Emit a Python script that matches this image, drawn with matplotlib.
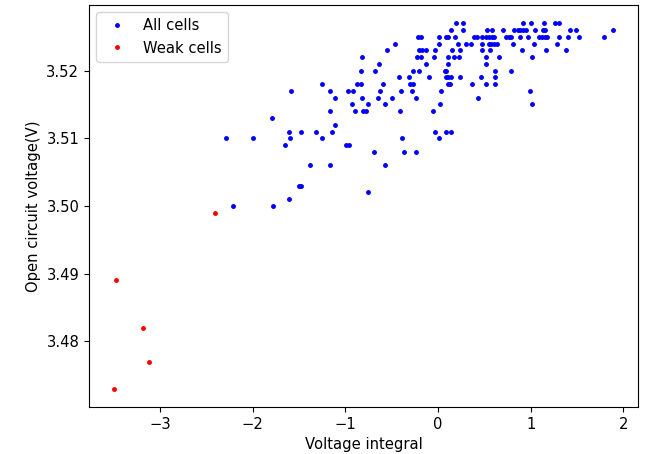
import matplotlib
matplotlib.use("Agg")
import matplotlib.pyplot as plt

plt.rcParams['font.size'] = 10.6

# All cells: voltage integral (x) and open circuit voltage (y)
all_x = [
    -2.29, -2.00, -2.21, -1.79, -1.78, -1.65, -1.61, -1.60, -1.61, -1.59,
    -1.50, -1.48, -1.48, -1.38, -1.32, -1.25, -1.25,
    0.19, 0.27, 0.92, 1.00, 1.14, 1.26, 1.31,
    0.14, 0.27, 0.53, 0.58, 0.70, 0.82, 0.86, 0.89, 0.92, 0.95, 1.05, 1.13, 1.16, 1.43, 1.49, 1.89,
    -0.22, -0.18, 0.01, 0.09, 0.11, 0.18, 0.39, 0.42, 0.48, 0.52, 0.55, 0.58, 0.60, 0.73, 0.77, 0.79,
    0.88, 0.97, 1.09, 1.12, 1.15, 1.18, 1.31, 1.40, 1.52, 1.79,
    -0.47, 0.01, 0.22, 0.30, 0.36, 0.48, 0.55, 0.57, 0.60, 0.64, 0.81, 1.04, 1.29,
    -0.55, -0.21, -0.17, -0.13, -0.03, 0.15, 0.24, 0.48, 0.56, 0.91, 1.17, 1.38,
    -0.82, -0.23, -0.18, -0.04, 0.11, 0.17, 0.23, 0.52, 0.66, 1.01,
    -0.64, -0.13, 0.11, 0.52,
    -0.83, -0.68, -0.27, -0.21, 0.08, 0.09, 0.61, 0.79,
    -0.42, -0.31, -0.10, 0.09, 0.11, 0.14, 0.24, 0.46, 0.61,
    -0.88, -0.83, -0.59, -0.30, -0.27, 0.11, 0.13, 0.37, 0.52, 0.61,
    -1.17, -0.97, -0.92, -0.63, -0.40, -0.28, 0.03, 0.99,
    -1.11, -0.82, -0.65, -0.50, -0.24, 0.43,
    -0.93, -0.76, -0.57, 0.02, 1.01,
    -1.17, -0.90, -0.81, -0.78, -0.41, -0.05,
    -1.11,
    -1.14, -0.03, 0.09, 0.14,
    -0.39, 0.01,
    -0.99, -0.96,
    -0.69, -0.37, -0.24,
    -1.17, -0.57,
    -0.76,
]
all_y = [
    3.510, 3.510, 3.500, 3.513, 3.500, 3.509, 3.511, 3.510, 3.501, 3.517,
    3.503, 3.503, 3.511, 3.506, 3.511, 3.518, 3.510,
] + [3.527] * 7 + [3.526] * 16 + [3.525] * 26 + [3.524] * 13 + [3.523] * 12 \
  + [3.522] * 10 + [3.521] * 4 + [3.520] * 8 + [3.519] * 9 + [3.518] * 10 \
  + [3.517] * 8 + [3.516] * 6 + [3.515] * 5 + [3.514] * 6 + [3.512] * 1 \
  + [3.511] * 4 + [3.510] * 2 + [3.509] * 2 + [3.508] * 3 + [3.506] * 2 + [3.502] * 1

# Weak cells
weak_x = [-3.50, -3.48, -3.19, -3.12, -2.41]
weak_y = [3.473, 3.489, 3.482, 3.477, 3.499]

fig = plt.figure(figsize=(6.48, 4.54), dpi=100)
ax = fig.add_axes([89 / 648, 1 - 407 / 454, (638 - 89) / 648, (407 - 5) / 454])
ax.plot(all_x, all_y, '.', color='blue', markersize=5, label='All cells')
ax.plot(weak_x, weak_y, '.', color='red', markersize=5, label='Weak cells')
ax.set_xlabel('Voltage integral')
ax.set_ylabel('Open circuit voltage(V)')
ax.set_yticks([3.48, 3.49, 3.50, 3.51, 3.52])
ax.legend(loc='upper left')
fig.savefig('out.png', dpi=100)
